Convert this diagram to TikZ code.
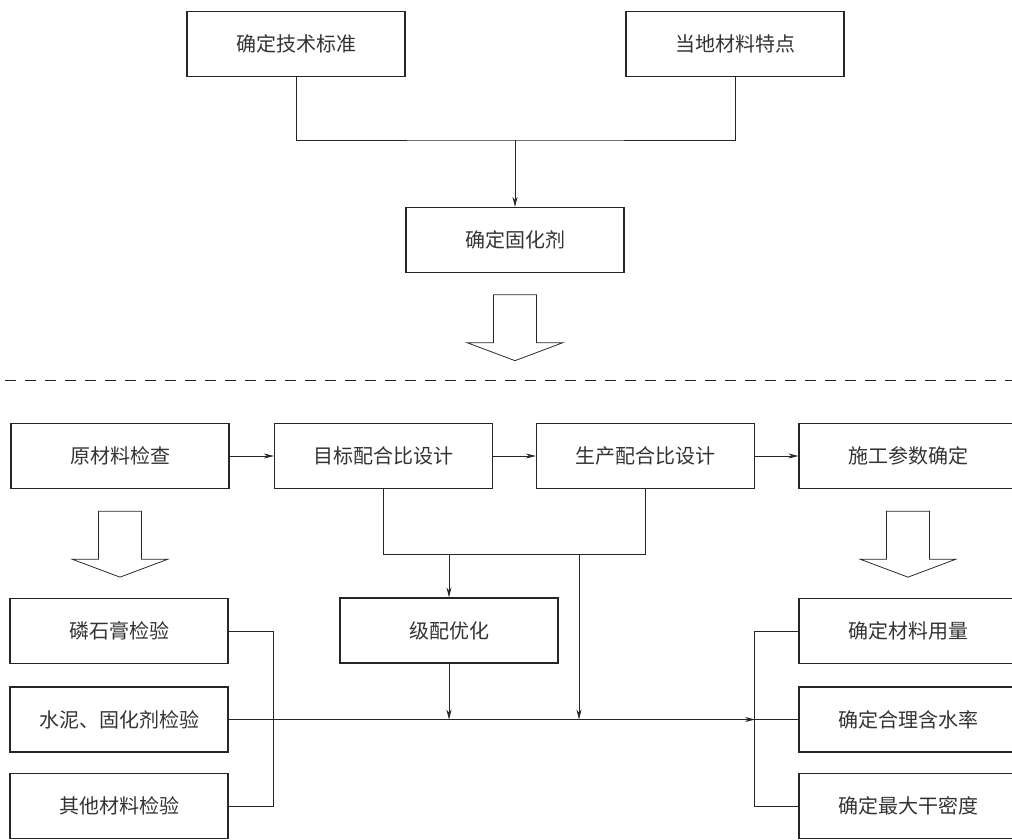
\documentclass[tikz,border=0pt]{standalone}
\usepackage{fontspec}
\newfontfamily\cjk{Noto Sans CJK SC}
\usetikzlibrary{
  arrows.meta,
  positioning,
  calc
}
\usepackage{xcolor}
\definecolor{inkGray}{rgb}{0.2,0.2,0.2}
\definecolor{lineGray}{rgb}{0.15,0.15,0.15}
\newcommand{\stepNode}[3]{\node[stepbox] (#1) at (#2) {#3};}
\newcommand{\hollowArrow}[1]{%
  \draw[hollow] ($(#1)+(-21.5,0)$) -- ++(0,48) -- ++(-26.5,0)
    -- ($(#1)+(0,66)$) -- ($(#1)+(48,48)$) -- ++(-26.5,0) -- ++(0,-48) -- cycle;}
\tikzset{
  stepbox/.style={
    draw=lineGray,
    line width=1.3pt,
    minimum width=218pt,
    minimum height=65pt,
    inner sep=0pt,
    text=inkGray,
    font=\cjk\fontsize{20}{24}\selectfont
  }
}
\tikzset{
  link/.style={
    draw=lineGray,
    line width=0.7pt
  },
  flow/.style={
    link,
    -{Stealth[length=10pt,width=5pt]}
  },
  hollow/.style={
    draw=lineGray,
    line width=0.8pt,
    line join=miter
  }
}

\begin{document}
\begin{tikzpicture}[x=1pt, y=-1pt]
    \useasboundingbox (0,0) rectangle (1012,839);

    % upper part
    \stepNode{standard}{296,44}{确定技术标准}
    \stepNode{local}{735,44}{当地材料特点}
    \stepNode{agent}{515,240}{确定固化剂}

    \coordinate (topJoin) at (515,140);
    \draw[link] (standard.south) |- (topJoin) -| (local.south);
    \draw[flow] (topJoin) -- (agent.north);
    \hollowArrow{$(agent.south)+(0,21.5)$}

    \draw[link, dash pattern=on 11pt off 9pt, dash phase=-5pt] (0,380) -- (1012,380);

    % lower part
    \stepNode{raw}{120,456}{原材料检查}
    \stepNode{target}{383.5,456}{目标配合比设计}
    \stepNode{prod}{645.5,456}{生产配合比设计}
    \stepNode{build}{908,456}{施工参数确定}
    \stepNode{grading}{449,630.5}{级配优化}

    \foreach \Name/\Row/\Text in {phos/631/磷石膏检验, cement/719.5/水泥、固化剂检验, other/806/其他材料检验}{
      \stepNode{\Name}{119,\Row}{\Text}
    }
    \foreach \Name/\Row/\Text in {amount/631/确定材料用量, water/719.5/确定合理含水率, density/806/确定最大干密度}{
      \stepNode{\Name}{908,\Row}{\Text}
    }

    \foreach \from/\to in {raw/target, target/prod, prod/build}{
      \draw[flow] (\from) -- (\to);
    }

    \hollowArrow{$(raw.south)+(0,22)$}
    \hollowArrow{$(build.south)+(0,22)$}

    \coordinate (midJoin) at (449,554);
    \coordinate (dropB) at (579,554);
    \coordinate (rightBus) at (755,719.5);
    \draw[link] (target.south) |- (midJoin) -| (prod.south);
    \draw[flow] (midJoin) -- (grading.north);
    \draw[flow] (grading.south) -- (grading.south |- cement);
    \draw[flow] (dropB) -- (dropB |- cement);

    \draw[link] (phos.east) -- ++(45,0) |- (other.east);
    \draw[flow] (cement.east) -- (rightBus);
    \draw[link] (rightBus) -- (water.west);
    \draw[link] (amount.west) -- ++(-44,0) |- (density.west);
\end{tikzpicture}
\end{document}
